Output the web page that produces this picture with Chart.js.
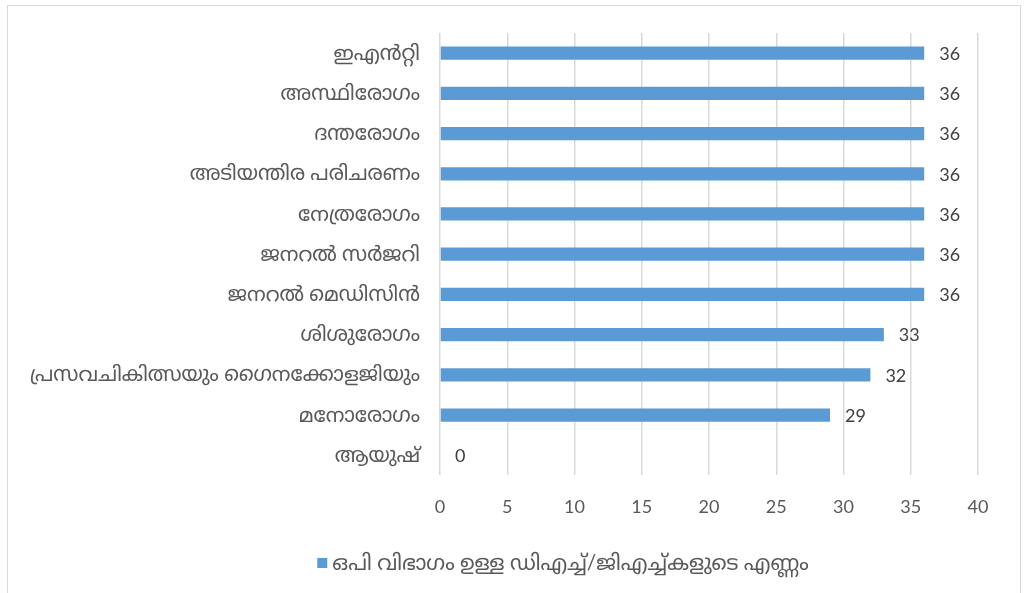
<!DOCTYPE html>
<html>
<head>
<meta charset="utf-8">
<script src="https://cdn.jsdelivr.net/npm/chart.js@4/dist/chart.umd.min.js"></script>
<style>
  html, body { margin: 0; padding: 0; background: #fff; }
  #wrap { position: relative; width: 1024px; height: 593px; overflow: hidden; }
  #frame { position: absolute; left: 7px; top: 5px; width: 1012px; height: 620px; border: 1px solid #d9d9d9; }
  canvas { position: absolute; left: 0; top: 0; }
</style>
</head>
<body>
<div id="wrap">
  <div id="frame"></div>
  <canvas id="chart" width="1024" height="593"></canvas>
</div>
<script>
const categories = [
  "ഇഎൻറ്റി",
  "അസ്ഥിരോഗം",
  "ദന്തരോഗം",
  "അടിയന്തിര പരിചരണം",
  "നേത്രരോഗം",
  "ജനറൽ സർജറി",
  "ജനറൽ മെഡിസിൻ",
  "ശിശുരോഗം",
  "പ്രസവചികിത്സയും ഗൈനക്കോളജിയും",
  "മനോരോഗം",
  "ആയുഷ്"
];
const counts = [36, 36, 36, 36, 36, 36, 36, 33, 32, 29, 0];
const seriesName = "ഒപി വിഭാഗം ഉള്ള ഡിഎച്ച്/ജിഎച്ച്കളുടെ എണ്ണം";
const xTicks = [0, 5, 10, 15, 20, 25, 30, 35, 40];

const FONT = "Lato, 'Noto Sans Malayalam', 'Noto Sans', sans-serif";
const TEXT = "#595959";
const BAR = "#5B9BD5";

// value labels at the end of each bar
const valueLabels = {
  id: 'valueLabels',
  afterDatasetsDraw(chart) {
    const ctx = chart.ctx;
    const meta = chart.getDatasetMeta(0);
    ctx.save();
    ctx.font = "18px " + FONT;
    ctx.fillStyle = "#404040";
    ctx.textAlign = "left";
    ctx.textBaseline = "middle";
    meta.data.forEach(function(bar, i) {
      ctx.fillText(String(counts[i]), bar.x + 15, bar.y + 1);
    });
    ctx.restore();
  }
};

// legend drawn by hand so it sits right of centre like the original
const bottomLegend = {
  id: 'bottomLegend',
  afterDraw(chart) {
    const ctx = chart.ctx;
    ctx.save();
    ctx.font = "21px " + FONT;
    const w = ctx.measureText(seriesName).width;
    const total = 15 + w;
    const x0 = 563 - total / 2;
    const y = 563;
    ctx.fillStyle = BAR;
    ctx.fillRect(x0, y - 5, 10, 10);
    ctx.fillStyle = TEXT;
    ctx.textBaseline = "middle";
    ctx.fillText(seriesName, x0 + 15, y);
    ctx.restore();
  }
};

new Chart('chart', {
  type: 'bar',
  data: {
    labels: categories,
    datasets: [{
      label: seriesName,
      data: counts,
      backgroundColor: BAR,
      borderWidth: 0,
      barPercentage: 0.33,
      categoryPercentage: 1
    }]
  },
  options: {
    indexAxis: 'y',
    responsive: false,
    animation: false,
    layout: { padding: { left: 20, right: 46, top: 33, bottom: 54 } },
    plugins: {
      legend: { display: false },
      tooltip: { enabled: false }
    },
    scales: {
      x: {
        min: 0,
        max: 40,
        afterBuildTicks(scale) { scale.ticks = xTicks.map(v => ({ value: v })); },
        ticks: { font: { family: FONT, size: 18 }, color: TEXT, padding: 21 },
        grid: { color: "#d9d9d9", lineWidth: 1.5, drawTicks: false },
        border: { display: false }
      },
      y: {
        afterFit(scale) { scale.width = 420; },
        ticks: { font: { family: FONT, size: 20.5 }, color: TEXT, padding: 20 },
        grid: { display: false, drawTicks: false },
        border: { display: false }
      }
    }
  },
  plugins: [valueLabels, bottomLegend]
});
</script>
</body>
</html>
